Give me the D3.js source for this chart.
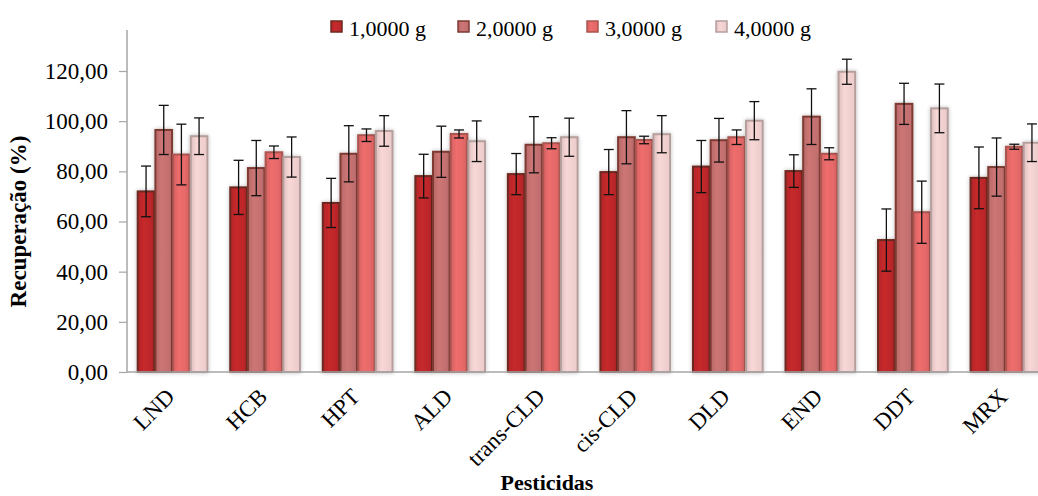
<!DOCTYPE html>
<html>
<head>
<meta charset="utf-8">
<script src="https://cdn.jsdelivr.net/npm/d3@7"></script>
<style>
  body { margin: 0; background: #fff; overflow: hidden; }
  svg { display: block; font-family: "Liberation Serif", "Times New Roman", serif; }
</style>
</head>
<body>
<svg id="chart" width="1038" height="496"></svg>
<script>
// Pesticides on the x axis
const categories = ["LND", "HCB", "HPT", "ALD", "trans-CLD", "cis-CLD", "DLD", "END", "DDT", "MRX"];
const seriesNames = ["1,0000 g", "2,0000 g", "3,0000 g", "4,0000 g"];

// Recovery (%) per sample mass
const mass1 = [72.0, 73.6, 67.4, 78.1, 78.9, 79.7, 81.9, 80.1, 52.6, 77.4];
const mass2 = [96.5, 81.3, 87.0, 87.8, 90.6, 93.6, 92.4, 101.8, 106.9, 81.7];
const mass3 = [86.7, 87.6, 94.4, 94.9, 91.2, 92.5, 93.6, 87.0, 63.7, 89.8];
const mass4 = [94.0, 85.7, 96.1, 92.0, 93.6, 94.8, 100.2, 119.7, 105.1, 91.4];

// Standard deviations (error bars)
const err1 = [10.1, 10.8, 9.8, 8.7, 8.2, 9.0, 10.4, 6.5, 12.4, 12.3];
const err2 = [9.8, 11.0, 11.2, 10.2, 11.2, 10.6, 8.7, 11.1, 8.2, 11.6];
const err3 = [12.1, 2.5, 2.5, 1.6, 2.2, 1.5, 2.9, 2.4, 12.4, 1.0];
const err4 = [7.3, 8.0, 6.1, 8.1, 7.6, 7.4, 7.6, 5.0, 9.7, 7.5];

const yTicks = [0, 20, 40, 60, 80, 100, 120];

const values = [mass1, mass2, mass3, mass4];
const errors = [err1, err2, err3, err4];

const fills = ["#c0282b", "#c77272", "#e86a6a", "#f2d1d1"];
const edges = ["#6d2920", "#7e3a33", "#aa5550", "#b59f9d"];

const svg = d3.select("#chart");
const margin = { left: 127, top: 71, bottom: 124 };
const H = 496;

const x = d3.scaleBand()
  .domain(categories)
  .range([margin.left, 1050])
  .paddingInner(0.236)
  .paddingOuter(0.105);

const xs = d3.scaleBand()
  .domain(d3.range(4))
  .range([0, x.bandwidth()]);

const y = d3.scaleLinear()
  .domain([0, 120])
  .range([H - margin.bottom, margin.top]);

// gradients and soft shadow
const defs = svg.append("defs");
fills.forEach((c, i) => {
  const g = defs.append("linearGradient")
    .attr("id", "grad" + i)
    .attr("x1", 0).attr("x2", 1).attr("y1", 0).attr("y2", 0);
  const base = d3.color(c);
  g.append("stop").attr("offset", "0%").attr("stop-color", base.darker(0.25));
  g.append("stop").attr("offset", "35%").attr("stop-color", base.brighter(0.08));
  g.append("stop").attr("offset", "100%").attr("stop-color", base.darker(0.1));
});
const shadow = defs.append("filter").attr("id", "shadow")
  .attr("x", "-30%").attr("y", "-10%").attr("width", "160%").attr("height", "120%");
shadow.append("feGaussianBlur").attr("in", "SourceAlpha").attr("stdDeviation", 2.2);
shadow.append("feOffset").attr("dx", 0).attr("dy", 0).attr("result", "blur");
shadow.append("feComponentTransfer").append("feFuncA").attr("type", "linear").attr("slope", 0.25);
const merge = shadow.append("feMerge");
merge.append("feMergeNode");
merge.append("feMergeNode").attr("in", "SourceGraphic");

// y axis
const yAxis = svg.append("g")
  .attr("transform", `translate(${margin.left},0)`)
  .call(d3.axisLeft(y).tickValues(yTicks).tickSize(8).tickSizeOuter(0)
    .tickFormat(d => d3.format(".2f")(d).replace(".", ",")));
yAxis.select(".domain").attr("stroke", "#a6a6a6").attr("stroke-width", 1.5)
  .attr("d", `M0,${y(0)}V30`);
yAxis.selectAll(".tick line").attr("stroke", "#a6a6a6").attr("stroke-width", 1.2);
yAxis.selectAll(".tick text")
  .attr("x", -19)
  .attr("font-size", 23)
  .attr("fill", "#000")
  .attr("font-family", "Liberation Serif");

// bars
const groups = svg.append("g").selectAll("g")
  .data(categories)
  .join("g")
  .attr("transform", d => `translate(${x(d)},0)`);

values.forEach((vals, s) => {
  groups.append("rect")
    .attr("x", xs(s) + 1)
    .attr("y", (d, i) => y(vals[i]))
    .attr("width", xs.bandwidth() - 1)
    .attr("height", (d, i) => y(0) - y(vals[i]))
    .attr("fill", `url(#grad${s})`)
    .attr("stroke", edges[s])
    .attr("stroke-width", 2)
    .attr("filter", "url(#shadow)");
});

// error bars
values.forEach((vals, s) => {
  const cx = xs(s) + xs.bandwidth() / 2 + 0.5;
  const eb = groups.append("g")
    .attr("stroke", "#111")
    .attr("stroke-width", 1.3);
  eb.append("line")
    .attr("x1", cx).attr("x2", cx)
    .attr("y1", (d, i) => y(vals[i] + errors[s][i]))
    .attr("y2", (d, i) => y(vals[i] - errors[s][i]));
  [1, -1].forEach(sign => {
    eb.append("line")
      .attr("x1", cx - 5).attr("x2", cx + 5)
      .attr("y1", (d, i) => y(vals[i] + sign * errors[s][i]))
      .attr("y2", (d, i) => y(vals[i] + sign * errors[s][i]));
  });
});

// x axis
svg.append("line")
  .attr("x1", margin.left).attr("x2", 1038)
  .attr("y1", y(0)).attr("y2", y(0))
  .attr("stroke", "#a6a6a6").attr("stroke-width", 1.5);

svg.append("g").selectAll("text")
  .data(categories)
  .join("text")
  .attr("transform", d => `translate(${x(d) + x.bandwidth() / 2 + 4},${y(0) + 26}) rotate(-45)`)
  .attr("text-anchor", "end")
  .attr("font-size", 23)
  .text(d => d);

// axis titles
svg.append("text")
  .attr("x", 547).attr("y", 490)
  .attr("text-anchor", "middle")
  .attr("font-size", 22)
  .attr("font-weight", "bold")
  .text("Pesticidas");

svg.append("text")
  .attr("transform", `translate(26,${(y(0) + y(120)) / 2}) rotate(-90)`)
  .attr("text-anchor", "middle")
  .attr("font-size", 23)
  .attr("font-weight", "bold")
  .text("Recuperação (%)");

// legend
const legendX = [331, 458, 587, 716];
const legend = svg.append("g").selectAll("g")
  .data(seriesNames)
  .join("g")
  .attr("transform", (d, i) => `translate(${legendX[i]},21)`);
legend.append("rect")
  .attr("width", 11).attr("height", 11)
  .attr("fill", (d, i) => `url(#grad${i})`)
  .attr("stroke", (d, i) => edges[i])
  .attr("stroke-width", 1.5);
legend.append("text")
  .attr("x", 18).attr("y", 15)
  .attr("font-size", 22)
  .text(d => d);
</script>
</body>
</html>
